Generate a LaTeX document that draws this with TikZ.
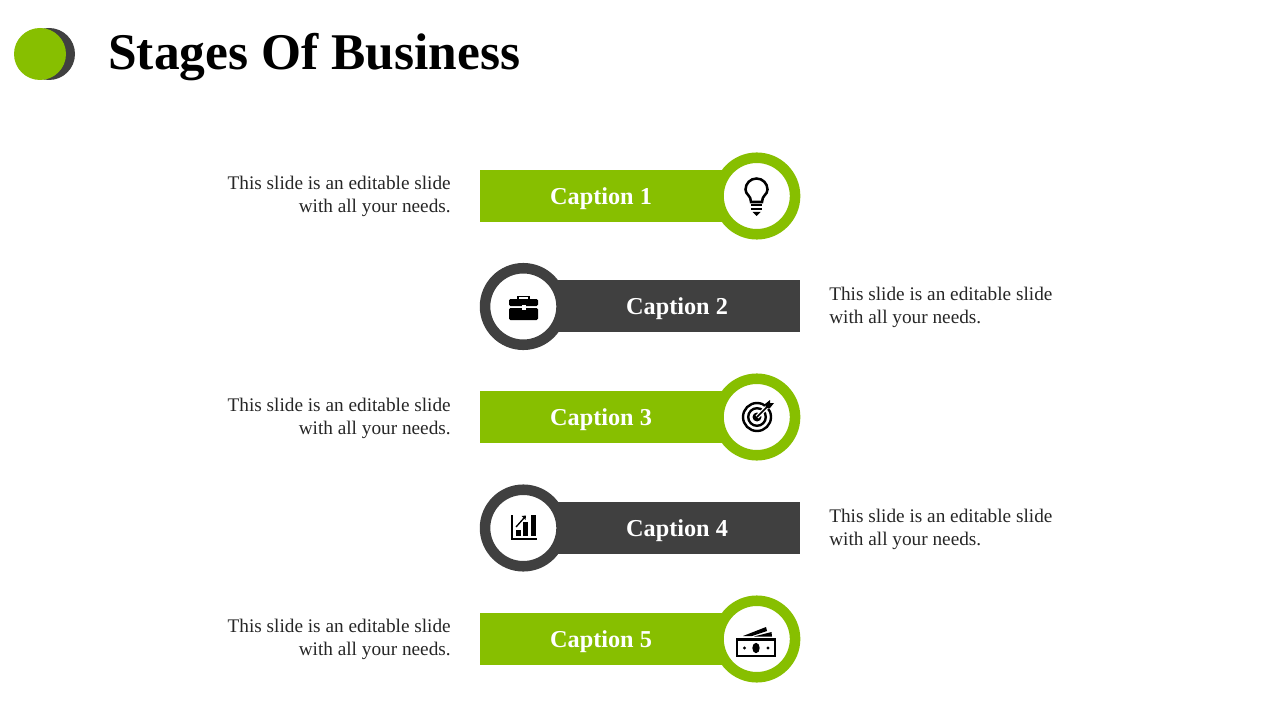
\documentclass[tikz,border=0pt]{standalone}
\usepackage{fontspec}
\setmainfont{Liberation Serif}
\definecolor{leaf}{HTML}{87BF00}
\definecolor{slate}{HTML}{404040}
\definecolor{ink}{HTML}{262626}
\tikzset{
  greenbar/.style={fill=leaf,minimum height=39pt,inner sep=0pt,text=white,text height=14pt,text depth=1.5pt,font=\bfseries\fontsize{18.2}{20}\selectfont},
  darkbar/.style={fill=slate,minimum height=39pt,inner sep=0pt,text=white,text height=14pt,text depth=1.5pt,font=\bfseries\fontsize{18.2}{20}\selectfont},
  greenring/.style={circle,draw=leaf,line width=7.9pt,fill=white,minimum size=57.4pt,inner sep=0pt},
  darkring/.style={circle,draw=slate,line width=7.9pt,fill=white,minimum size=57.4pt,inner sep=0pt},
  desc/.style={text=ink,align=left,inner sep=0pt,font=\fontsize{14.45}{17.25}\selectfont},
  descr/.style={desc,align=right}
}
\begin{document}
\begin{tikzpicture}[x=0.75pt,y=-0.75pt]
\useasboundingbox (0,0) rectangle (1280,720);
% logo
\fill [slate] (49,54) circle (26);
\fill [leaf] (40,54) circle (26);
\node [anchor=west,inner sep=0pt,font=\bfseries\fontsize{38.6}{44}\selectfont] (title) at (108,57) {Stages Of Business};
% bars
\node [greenbar,minimum width=181.5pt] (bar1) at (601,196) {Caption 1};
\node [darkbar,minimum width=184.5pt] (bar2) at (677,306) {Caption 2};
\node [greenbar,minimum width=181.5pt] (bar3) at (601,417) {Caption 3};
\node [darkbar,minimum width=184.5pt] (bar4) at (677,528) {Caption 4};
\node [greenbar,minimum width=181.5pt] (bar5) at (601,639) {Caption 5};
% rings
\node [greenring] (ring1) at (756.8,196) {};
\node [darkring] (ring2) at (523.3,306.5) {};
\node [greenring] (ring3) at (756.8,417) {};
\node [darkring] (ring4) at (523.3,528) {};
\node [greenring] (ring5) at (756.8,639) {};
% texts
\node [descr,anchor=east] (text1) at (451,196) {This slide is an editable slide\\with all your needs.};
\node [desc,anchor=west] (text2) at (829,307) {This slide is an editable slide\\with all your needs.};
\node [descr,anchor=east] (text3) at (451,418) {This slide is an editable slide\\with all your needs.};
\node [desc,anchor=west] (text4) at (829,529) {This slide is an editable slide\\with all your needs.};
\node [descr,anchor=east] (text5) at (451,639) {This slide is an editable slide\\with all your needs.};
% bulb
\draw [black,line width=1.9pt] (751,202) .. controls (751,195) and (745.5,195) .. (745.5,189.5) arc (180:360:11) .. controls (767.5,195) and (762,195) .. (762,202) -- cycle;
\draw [black,line width=1.5pt] (751,205.5) -- (762,205.5);
\draw [black,line width=1.5pt] (751,209.5) -- (762,209.5);
\fill [black] (752.5,212) -- (760.5,212) -- (756.5,216) -- cycle;
% briefcase
\draw [black,line width=1.4pt] (518,300) -- (518,296.5) -- (529,296.5) -- (529,300);
\fill [black,rounded corners=1pt] (509,299) rectangle (538,306);
\fill [black,rounded corners=1pt] (509,308) rectangle (538,320);
\fill [white] (521.5,305) rectangle (525.5,309.5);
% target
\draw [black,line width=1.8pt] (757,417) circle (14);
\draw [black,line width=1.8pt] (757,417) circle (8.8);
\fill [black] (757,417) circle (4.5);
\draw [white,line width=3pt] (757,417) -- (771,403);
\draw [black,line width=1.2pt] (757,417) -- (770,404);
\fill [black] (765,404) -- (770,400) -- (770,403) -- (774,403) -- (770,408) -- (766,408) -- cycle;
% chart
\draw [black,line width=1pt] (512,515) -- (512,539) -- (537,539);
\fill [black] (516,530) rectangle (521,536);
\fill [black] (523,522) rectangle (528,536);
\fill [black] (531,515) rectangle (536,536);
\draw [black,line width=1pt] (516,527) -- (524,518);
\fill [black] (521.5,516) -- (526,515.5) -- (525.5,520) -- cycle;
% money
\draw [black,line width=1.9pt] (737,639.5) rectangle (775,656);
\fill [black] (756,648) ellipse (3.7 and 5.2);
\fill [black] (744.5,648) circle (1.6);
\fill [black] (768,648) circle (1.6);
\fill [black] (743,636) -- (766,627) -- (767,631) -- (752,636) -- cycle;
\fill [black] (754,636.5) -- (771.5,632) -- (772,636.5) -- cycle;
\end{tikzpicture}
\end{document}
